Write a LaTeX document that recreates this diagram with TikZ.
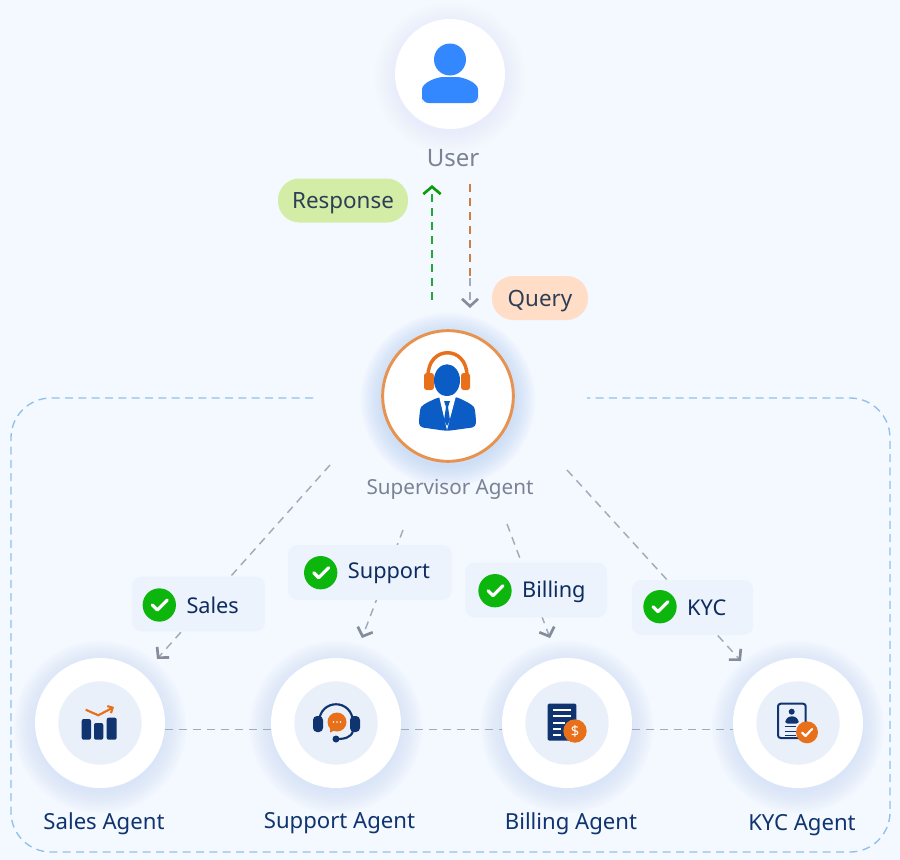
\documentclass[tikz,border=0pt]{standalone}
\usepackage{fontspec}
\setmainfont{Noto Sans}
\usetikzlibrary{arrows.meta, positioning}
\definecolor{pagebg}{HTML}{F4F8FF}
\definecolor{chipbg}{HTML}{EDF3FD}
\definecolor{innerbg}{HTML}{EAF0FA}
\definecolor{navy}{HTML}{0F3470}
\definecolor{pilltext}{HTML}{2E3F55}
\definecolor{iconorange}{HTML}{E8701A}
\definecolor{ringorange}{HTML}{E8924F}
\definecolor{linegray}{HTML}{A3ABBA}
\definecolor{tipgray}{HTML}{858D9C}
\definecolor{okgreen}{HTML}{0DB60D}
\definecolor{replygreen}{HTML}{22A838}
\definecolor{querybrown}{HTML}{C98048}
\definecolor{iconblue}{HTML}{3388FF}
\definecolor{agentblue}{HTML}{0B5CC5}
\definecolor{labelgray}{HTML}{7A8294}
\definecolor{framecolor}{HTML}{8FC0EC}
\definecolor{glowsoft}{HTML}{E2EBFB}
\definecolor{glowagent}{HTML}{C6D8F8}
\definecolor{glowstrong}{HTML}{A9C8F5}
\definecolor{pillgreen}{HTML}{D3EDA6}
\definecolor{pillorange}{HTML}{FFDDC7}

\newcommand{\softglow}[3]{%
  \foreach \g in {1,3,...,21} {\fill[#3, opacity=.055] (#1) ++(0,4) circle[radius=#2+\g];}}
\newcommand{\agentchip}[5]{%
  \node[chip, minimum width=#3] (#1Chip) at (#2) {};
  \node[tick] (#1Tick) at (#4) {};
  \draw[white, line width=2.4pt, line cap=round, line join=round] (#1Tick.center) ++(-7,0) -- ++(5,5) -- ++(10,-10);
  \node[chiptext, right=7.5pt of #1Tick, yshift=-.5pt] (#1Text) {#5};}

\begin{document}
\begin{tikzpicture}[
x=.75pt, y=-.75pt,
agent/.style={circle, fill=white, inner sep=0pt, minimum size=97.5pt},
agentinner/.style={circle, fill=innerbg, inner sep=0pt, minimum size=62.5pt},
chip/.style={fill=chipbg, rounded corners=7pt, minimum height=41pt, inner sep=0pt},
tick/.style={circle, fill=okgreen, inner sep=0pt, minimum size=25pt},
chiptext/.style={inner sep=0pt, font=\fontsize{16.3}{18}\selectfont, text=navy!85!black},
pill/.style={rounded corners=16pt, inner sep=0pt, minimum height=33pt, text height=12pt, text depth=0pt, font=\fontsize{16.8}{18}\selectfont, text=pilltext},
agentname/.style={inner sep=0pt, font=\fontsize{16.6}{19}\selectfont, text=navy},
link/.style={line width=1.1pt, linegray, dash pattern=on 6pt off 4.5pt},
linkarrow/.style={link, -{Straight Barb[length=5.5pt, width=12pt, line width=2pt, tipgray]}}
]
\useasboundingbox (0,0) rectangle (900,860);

\fill[pagebg] (0,0) rectangle (900,860);
\draw[line width=1pt, framecolor, dash pattern=on 6pt off 4pt, rounded corners=30pt]
  (313,398) -- (11,398) -- (11,852) -- (890,852) -- (890,398) -- (587,398);

\softglow{450,74}{55}{glowsoft}
\softglow{448,396}{66}{glowstrong}
\softglow{100,723}{65}{glowagent}
\softglow{336,723}{65}{glowagent}
\softglow{567,723}{65}{glowagent}
\softglow{798,723}{65}{glowagent}

\node[circle, fill=white, inner sep=0pt, minimum size=82.5pt] (user) at (450,74) {};
\node[circle, fill=white, draw=ringorange, line width=2.2pt, inner sep=0pt, minimum size=98pt] (supervisor) at (448,396) {};
\node[agent] (salesAgent) at (100,723) {};
\node[agent] (supportAgent) at (336,723) {};
\node[agent] (billingAgent) at (567,723) {};
\node[agent] (kycAgent) at (798,723) {};
\node[agentinner] at (salesAgent) {};
\node[agentinner] at (supportAgent) {};
\node[agentinner] at (billingAgent) {};
\node[agentinner] at (kycAgent) {};

\begin{scope}[shift={(user.center)}]
\fill[iconblue] (0,-14.5) circle[radius=16];
\fill[iconblue, rounded corners=5pt] (-28,29) -- (-28,22) .. controls (-28,9) and (-14,3) .. (0,3) .. controls (14,3) and (28,9) .. (28,22) -- (28,29) -- cycle;
\end{scope}

\begin{scope}[shift={(supervisor.center)}]
\draw[iconorange, line width=2.6pt] (-20,-20) .. controls (-20,-51) and (19,-51) .. (19,-20);
\fill[iconorange, rounded corners=2pt] (-24,-23) rectangle (-14,-6);
\fill[iconorange, rounded corners=2pt] (13,-23) rectangle (22,-6);
\fill[agentblue] (-1,-15.7) ellipse[x radius=13, y radius=16];
\fill[agentblue, rounded corners=3pt] (-9,1) -- (-24,8) .. controls (-28,12) and (-29,22) .. (-29,31) -- (-1,35) -- (28,31) .. controls (28,22) and (27,12) .. (23,8) -- (9,1) -- cycle;
\fill[white] (-9,0) -- (-1,34) -- (8,0) -- cycle;
\fill[agentblue] (-4,5) -- (2,5) -- (0,11) -- (2,24) -- (-1,30) -- (-4,24) -- (-2,11) -- cycle;
\end{scope}

\begin{scope}[shift={(salesAgent.center)}]
\fill[navy, rounded corners=1.5pt] (-18.3,-4) rectangle (-9,16.7);
\fill[navy, rounded corners=1.5pt] (-6,0) rectangle (3.3,16.7);
\fill[navy, rounded corners=1.5pt] (6.7,-5.3) rectangle (16.7,16.7);
\draw[iconorange, line width=1.6pt, -{Straight Barb[length=3pt, width=6pt]}] (-14.3,-13.3) -- (-1.7,-7.7) -- (14,-16);
\end{scope}

\begin{scope}[shift={(supportAgent.center)}]
\draw[navy, line width=1.6pt] (-17,0) .. controls (-17,-25) and (17,-25) .. (17,0);
\fill[navy, rounded corners=3pt] (-23,-7) rectangle (-13,9);
\fill[navy, rounded corners=3pt] (14,-7) rectangle (24,9);
\draw[navy, line width=1.6pt] (17,8) .. controls (15,15) and (8,16) .. (0,16);
\fill[navy] (0,16) circle[radius=3.5];
\fill[iconorange] (1,-1) circle[radius=9.5];
\fill[iconorange] (-6,9.5) -- (-6,1) -- (2,6) -- cycle;
\fill[white] (-2.5,-1) circle[radius=.9] (1,-1) circle[radius=.9] (4.5,-1) circle[radius=.9];
\end{scope}

\begin{scope}[shift={(billingAgent.center)}]
\fill[navy, rounded corners=1pt] (-19.3,-19.3) rectangle (9.3,17.7);
\draw[white, line width=1.3pt] (-14,-12.7) -- (4,-12.7) (-14,-6.7) -- (4,-6.7) (-14,0) -- (-2,0) (-14,6) -- (-6,6) (-14,11.7) -- (-6,11.7);
\fill[iconorange] (8,8) circle[radius=11.7];
\node[inner sep=0pt, text=white, font=\fontsize{11}{11}\selectfont\bfseries] (billingSign) at (8,8) {\$};
\end{scope}

\begin{scope}[shift={(kycAgent.center)}]
\draw[navy, line width=1.5pt, rounded corners=2pt] (-20,-19.3) rectangle (7.7,15);
\fill[navy] (-6.3,-11.3) circle[radius=3];
\fill[navy, rounded corners=2pt] (-12.7,.7) -- (-12.7,-3) -- (-9,-6.7) -- (-3,-6.7) -- (.7,-3) -- (.7,.7) -- cycle;
\draw[navy, line width=1.2pt] (-13.3,3.3) -- (-1.7,3.3) (-13.3,8.3) -- (-1.7,8.3) (-13.3,12.5) -- (-1.7,12.5);
\fill[iconorange] (9,9.3) circle[radius=11];
\draw[white, line width=1.6pt, line cap=round, line join=round] (4,9.5) -- (7.5,13) -- (14,6);
\end{scope}

\node[inner sep=0pt, font=\fontsize{18}{20}\selectfont, text=labelgray] (userName) at (453,158) {User};
\node[inner sep=0pt, font=\fontsize{15.5}{17}\selectfont, text=labelgray] (supervisorName) at (450,489) {Supervisor Agent};
\node[agentname] (salesName) at (104,823.5) {Sales Agent};
\node[agentname] (supportName) at (339.5,823.5) {Support Agent};
\node[agentname] (billingName) at (571,823.5) {Billing Agent};
\node[agentname] (kycName) at (802,825.5) {KYC Agent};

\node[pill, fill=pillgreen, minimum width=97.5pt] (response) at (343,200.5) {Response};
\node[pill, fill=pillorange, minimum width=72pt] (query) at (540,298) {Query};

\coordinate (replyStart) at (432,300);
\coordinate (replyEnd) at (432,185);
\coordinate (queryStart) at (470,184);
\coordinate (queryMid) at (470,278);
\coordinate (queryEnd) at (470,308);
\coordinate (supSales) at (330,465);
\coordinate (salesEnd) at (157,659);
\coordinate (supSupport) at (403,530);
\coordinate (supportEnd) at (362,638);
\coordinate (supBilling) at (507,524);
\coordinate (billingEnd) at (550,638);
\coordinate (supKyc) at (567,470);
\coordinate (kycEnd) at (741,661);

\draw[linkarrow, replygreen, -{Straight Barb[length=5.5pt, width=13pt, line width=2pt, okgreen!85!black]}] (replyStart) -- (replyEnd);
\draw[link, querybrown] (queryStart) -- (queryMid);
\draw[linkarrow] (queryMid) -- (queryEnd);
\draw[linkarrow] (supSales) -- (salesEnd);
\draw[linkarrow] (supSupport) -- (supportEnd);
\draw[linkarrow] (supBilling) -- (billingEnd);
\draw[linkarrow] (supKyc) -- (kycEnd);
\draw[link] ([yshift=-5pt]salesAgent.east) -- ([yshift=-5pt]supportAgent.west);
\draw[link] ([yshift=-5pt]supportAgent.east) -- ([yshift=-5pt]billingAgent.west);
\draw[link] ([yshift=-5pt]billingAgent.east) -- ([yshift=-5pt]kycAgent.west);

\agentchip{sales}{198.5,604}{100pt}{159.3,605}{Sales}
\agentchip{support}{370,572.5}{123pt}{320.7,572.7}{Support}
\agentchip{billing}{536,590}{106.5pt}{495,590.7}{Billing}
\agentchip{kyc}{692.5,607.5}{91pt}{660,606.7}{KYC}

\end{tikzpicture}
\end{document}
